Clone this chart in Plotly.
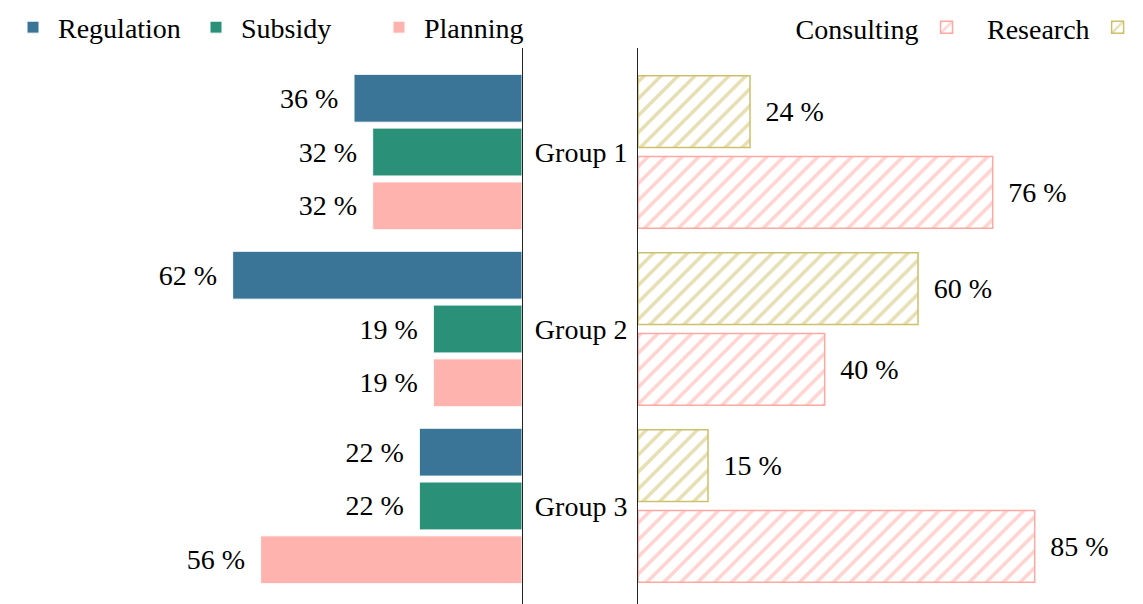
import plotly.graph_objects as go

groups = ["Group 1", "Group 2", "Group 3"]

# left panel (solid bars)
regulation = [36, 62, 22]
subsidy = [32, 19, 22]
planning = [32, 19, 56]

# right panel (hatched bars)
research = [24, 60, 15]
consulting = [76, 40, 85]

C_REG = "#3a7598"
C_SUB = "#2a9078"
C_PLAN = "#ffb3ae"
C_CONS = "#ffa8a2"
C_RES = "#cdc06a"

FONT = "Liberation Serif"
FS = 28
PAD = "\u00a0\u2009"

# page has 8px body margin, so the figure is a bit smaller
W, H = 1135, 596
TOP = 40
LEFT_AX = 514    # px of left panel axis line
RIGHT_AX = 630   # px of right panel axis line
px_per = 4.667   # px per percent

fig = go.Figure()

for name, vals, col in [("Regulation", regulation, C_REG),
                        ("Subsidy", subsidy, C_SUB),
                        ("Planning", planning, C_PLAN)]:
    fig.add_trace(go.Bar(
        y=groups, x=vals, name=name, orientation="h",
        marker=dict(color=col, line=dict(color="white", width=1)),
        texttemplate="%{x} %" + PAD, textposition="outside",
        textfont=dict(family=FONT, size=FS, color="black"),
        cliponaxis=False, constraintext="none",
        xaxis="x", yaxis="y", legend="legend",
    ))

for name, vals, col, leg in [("Research", research, C_RES, "legend3"),
                             ("Consulting", consulting, C_CONS, "legend2")]:
    fig.add_trace(go.Bar(
        y=groups, x=vals, name="", orientation="h",
        marker=dict(color="white", line=dict(color=col, width=1.5),
                    pattern=dict(shape="/", fgcolor=col, bgcolor="white",
                                 size=12, solidity=0.3)),
        texttemplate=PAD + "%{x} %", textposition="outside",
        textfont=dict(family=FONT, size=FS, color="black"),
        cliponaxis=False, constraintext="none",
        xaxis="x2", yaxis="y2", legend=leg,
    ))

yr = [2.554, -0.588]
leg_y = 0.992

fig.update_layout(
    width=W, height=H,
    margin=dict(l=0, r=0, t=TOP, b=0, autoexpand=False),
    paper_bgcolor="white", plot_bgcolor="white",
    font=dict(family=FONT, size=FS, color="black"),
    barmode="group", bargap=0.088, bargroupgap=0.11,
    showlegend=True,
    xaxis=dict(domain=[0, LEFT_AX / W], range=[LEFT_AX / px_per, 0],
               visible=False, fixedrange=True),
    yaxis=dict(anchor="x", side="right", range=yr, showline=True,
               linecolor="#222", linewidth=1, showticklabels=False,
               showgrid=False, zeroline=False, ticks=""),
    xaxis2=dict(domain=[RIGHT_AX / W, 1], range=[0, (W - RIGHT_AX) / px_per],
                visible=False, fixedrange=True),
    yaxis2=dict(anchor="x2", side="left", range=yr, showline=True,
                linecolor="#222", linewidth=1, showgrid=False,
                zeroline=False, ticks="", ticklabelstandoff=4,
                tickfont=dict(family=FONT, size=FS, color="black")),
    legend=dict(orientation="h", x=0, xanchor="left", y=leg_y, yanchor="bottom",
                font=dict(family=FONT, size=FS), bgcolor="rgba(0,0,0,0)",
                itemwidth=40, entrywidth=128, entrywidthmode="pixels",
                traceorder="normal"),
    legend2=dict(orientation="h", x=0.849, xanchor="right", y=leg_y,
                 yanchor="bottom", title=dict(text="Consulting", side="left",
                                              font=dict(family=FONT, size=FS)),
                 font=dict(family=FONT, size=FS), bgcolor="rgba(0,0,0,0)",
                 itemwidth=30),
    legend3=dict(orientation="h", x=1, xanchor="right", y=leg_y,
                 yanchor="bottom", title=dict(text="Research", side="left",
                                              font=dict(family=FONT, size=FS)),
                 font=dict(family=FONT, size=FS), bgcolor="rgba(0,0,0,0)",
                 itemwidth=30),
)

fig.write_html("out.html")
